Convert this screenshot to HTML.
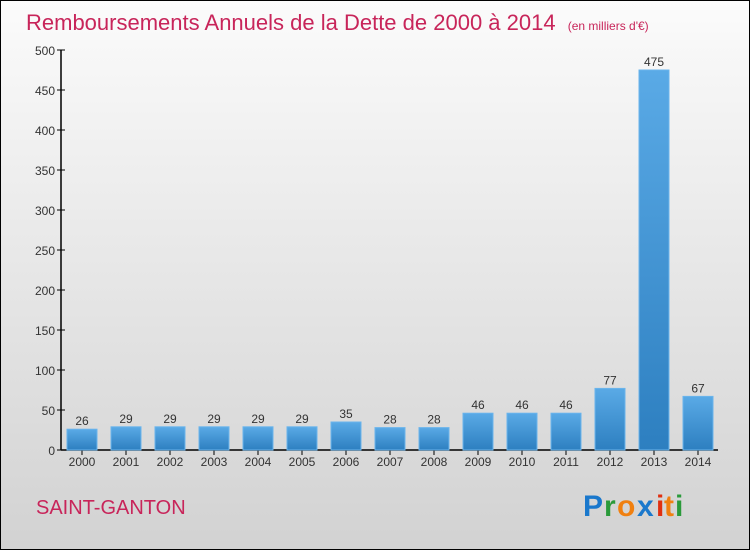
<!DOCTYPE html>
<html><head><meta charset="utf-8"><style>
html,body{margin:0;padding:0}
body{width:750px;height:550px;overflow:hidden;font-family:"Liberation Sans",sans-serif}
#frame{position:absolute;left:0;top:0;width:748px;height:548px;border:1px solid #000;background:linear-gradient(#fbfbfb,#d2d2d2)}
</style></head><body>
<div id="frame">
<svg width="750" height="550" style="position:absolute;left:-1px;top:-1px">
<defs><linearGradient id="bg" x1="0" y1="0" x2="0" y2="1"><stop offset="0" stop-color="#5aaae6"/><stop offset="1" stop-color="#2d7fc0"/></linearGradient></defs>
<text x="26" y="30" font-size="22" fill="#c8255a">Remboursements Annuels de la Dette de 2000 à 2014 <tspan font-size="12" dx="6">(en milliers d'€)</tspan></text>
<g id="axes"></g><g id="bars"></g>
<text x="36" y="514" font-size="20" fill="#c8255a">SAINT-GANTON</text>
<g font-size="30" font-weight="bold">
<text x="583" y="516" fill="#1a78cc">P</text><text x="604" y="516" fill="#2a9a3a">r</text><text x="617" y="516" fill="#f08010">o</text><text x="637" y="516" fill="#1a78cc">x</text><text x="656" y="516" fill="#e03010">i</text><text x="664" y="516" fill="#f08010">t</text><text x="675" y="516" fill="#2a9a3a">i</text>
</g>
</svg></div>
<script>
const years=["2000","2001","2002","2003","2004","2005","2006","2007","2008","2009","2010","2011","2012","2013","2014"];
const values=[26,29,29,29,29,29,35,28,28,46,46,46,77,475,67];
const yTicks=[0,50,100,150,200,250,300,350,400,450,500];
const NS="http://www.w3.org/2000/svg";
const y=v=>450-v*0.8, x=i=>82+i*44;
function mk(t,a,p){const e=document.createElementNS(NS,t);for(const k in a)e.setAttribute(k,a[k]);p.appendChild(e);return e;}
const ax=document.getElementById('axes'), bg=document.getElementById('bars');
const yl=mk('line',{x1:61,y1:50,x2:61,y2:450,stroke:'#000','stroke-width':1.5},ax);


const xl=mk('line',{x1:61,y1:450,x2:718,y2:450,stroke:'#000','stroke-width':1.5},ax);


yTicks.forEach(t=>{
 mk('line',{x1:57,y1:y(t),x2:65,y2:y(t),stroke:'#000'},ax);
 const tx=mk('text',{x:55,y:y(t)+5,'text-anchor':'end','font-size':12,fill:'#333'},ax);tx.textContent=t;
 
 
});
years.forEach((yr,i)=>{
 mk('line',{x1:x(i),y1:450,x2:x(i),y2:455,stroke:'#000'},ax);
 const tx=mk('text',{x:x(i),y:466,'text-anchor':'middle','font-size':12,fill:'#333'},ax);tx.textContent=yr;
 
 
 const v=values[i];
 const r=mk('rect',{x:x(i)-15,y:y(v),width:30,height:450-y(v),fill:'url(#bg)',stroke:'#6ab4ec','stroke-width':1},bg);
 
 
 const lb=mk('text',{x:x(i),y:y(v)-4,'text-anchor':'middle','font-size':12,fill:'#333'},bg);lb.textContent=v;
 
 
});
</script>
</body></html>
